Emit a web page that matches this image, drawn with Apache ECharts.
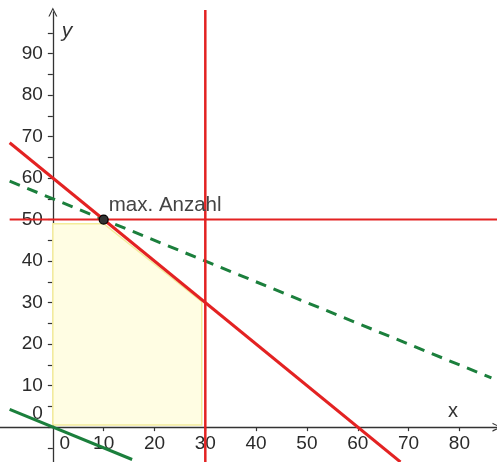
<!DOCTYPE html>
<html><head><meta charset="utf-8">
<script src="https://cdn.jsdelivr.net/npm/echarts@6/dist/echarts.min.js"></script>
<style>html,body{margin:0;padding:0;background:#fff}#c{width:497px;height:462px}</style>
</head><body><div id="c"></div>
<script>
// ---- data ----
var xTickValues = [10, 20, 30, 40, 50, 60, 70, 80];
var xLabelValues = [0, 10, 20, 30, 40, 50, 60, 70, 80];
var yTickValues = [-5, 0, 5, 10, 15, 20, 25, 30, 35, 40, 45, 50, 55, 60, 65, 70, 75, 80, 85, 90, 95];
var yLabelValues = [0, 10, 20, 30, 40, 50, 60, 70, 80, 90];
var redDiagonal = [[-8.5, 68.5], [68.4, -8.4]];        // x + y = 60
var redHorizontal = [[-8.5, 50], [87.4, 50]];           // y = 50
var redVertical = [[30, -8.4], [30, 100.5]];            // x = 30
var greenDashed = [[-8.5, 59.25], [86.3, 11.85]];       // y = 55 - x/2
var greenSolid = [[-8.5, 4.25], [15.6, -7.8]];          // y = -x/2
var feasibleRegion = [[0, 0.5], [0, 49], [10, 49], [29.3, 30.2], [29.3, 0.5]];
var optimumPoint = [[10, 50]];
var optimumLabel = 'max. Anzahl';

var X_MIN = -10.4, X_MAX = 87.4, Y_MIN = -8.4, Y_MAX = 100;
var W = 497, H = 462, TOP = 12;
var RED = '#e32222', GREEN = '#1b7f3c', AXIS = '#333';
var FONT = 'Liberation Sans, Arial, sans-serif';
// shift axes from grid edges onto the zero lines
var xAxisOffset = -((0 - Y_MIN) / (Y_MAX - Y_MIN)) * (H - TOP);
var yAxisOffset = -((0 - X_MIN) / (X_MAX - X_MIN)) * W;
var chart = echarts.init(document.getElementById('c'), null, {renderer: 'canvas'});
var arrowPath = 'path://M0,10 L5,0 L10,10 L8.6,10 L5,2.6 L1.4,10 Z';
chart.setOption({
  animation: false,
  grid: {left: 0, right: 0, top: TOP, bottom: 0, containLabel: false,
    outerBounds: {left: -300, right: -300, top: -300, bottom: -300}},
  xAxis: {
    type: 'value', min: X_MIN, max: X_MAX, position: 'bottom', offset: xAxisOffset,
    splitLine: {show: false},
    axisLine: {onZero: false, lineStyle: {color: AXIS, width: 1.3},
      symbol: ['none', arrowPath], symbolSize: [10, 9]},
    axisTick: {show: true, length: 4, lineStyle: {color: AXIS, width: 1.2},
      customValues: xTickValues},
    axisLabel: {show: true, customValues: xLabelValues, margin: 7, hideOverlap: false,
      fontFamily: FONT, fontSize: 19, color: '#2a2a2a',
      formatter: function (v) { return v === 0 ? '{z|0}' : String(v); },
      rich: {z: {padding: [0, 0, 0, 24], fontSize: 19, fontFamily: FONT, color: '#2a2a2a'}}},
    name: 'x', nameLocation: 'end', nameGap: -49,
    nameTextStyle: {fontFamily: FONT, fontSize: 20, color: '#333',
      align: 'left', verticalAlign: 'bottom', padding: [0, 0, 6, 0]}
  },
  yAxis: {
    type: 'value', min: Y_MIN, max: Y_MAX, position: 'left', offset: yAxisOffset,
    splitLine: {show: false},
    axisLine: {onZero: false, lineStyle: {color: AXIS, width: 1.3},
      symbol: ['none', arrowPath], symbolSize: [10, 9]},
    axisTick: {show: true, length: 5, lineStyle: {color: AXIS, width: 1.2},
      customValues: yTickValues},
    axisLabel: {show: true, customValues: yLabelValues, margin: 10, hideOverlap: false,
      fontFamily: FONT, fontSize: 19, color: '#2a2a2a',
      formatter: function (v) { return v === 0 ? '{z|0}' : String(v); },
      rich: {z: {padding: [0, 0, 26, 0], fontSize: 19, fontFamily: FONT, color: '#2a2a2a'}}},
    name: 'y', nameLocation: 'end', nameGap: -30,
    nameTextStyle: {fontFamily: FONT, fontSize: 21, fontStyle: 'italic', color: '#333',
      align: 'left', verticalAlign: 'bottom', padding: [0, 0, 0, 9]}
  },
  series: [
    {
      type: 'custom', z: 1, silent: true,
      data: feasibleRegion,
      renderItem: function (params, api) {
        if (params.dataIndex !== 0) return;
        var pts = feasibleRegion.map(function (p) { return api.coord(p); });
        return {type: 'polygon', shape: {points: pts},
          style: {fill: '#fffde3', stroke: '#f3ec9a', lineWidth: 1.5}};
      }
    },
    {type: 'line', data: greenSolid, symbol: 'none', z: 3, clip: false,
      lineStyle: {color: GREEN, width: 3}},
    {type: 'line', data: greenDashed, symbol: 'none', z: 3, clip: false,
      lineStyle: {color: GREEN, width: 3, type: [11, 8]}},
    {type: 'line', data: redHorizontal, symbol: 'none', z: 4, clip: false,
      lineStyle: {color: RED, width: 2}},
    {type: 'line', data: redVertical, symbol: 'none', z: 4, clip: false,
      lineStyle: {color: RED, width: 2.5}},
    {type: 'line', data: redDiagonal, symbol: 'none', z: 4, clip: false,
      lineStyle: {color: RED, width: 3}},
    {type: 'scatter', data: optimumPoint, z: 6, symbolSize: 9,
      itemStyle: {color: '#333', borderColor: '#000', borderWidth: 1.2, opacity: 1},
      label: {show: true, formatter: optimumLabel, position: 'right', offset: [-5, -14],
        fontFamily: FONT, fontSize: 20.5, color: '#444'}}
  ]
});
</script></body></html>
